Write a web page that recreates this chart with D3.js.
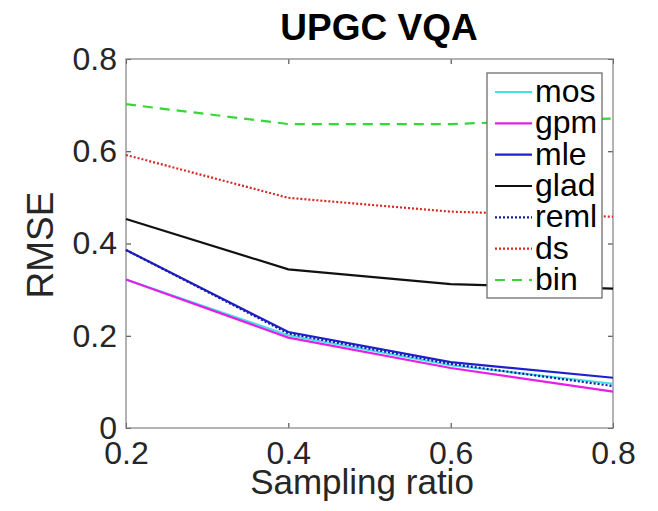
<!DOCTYPE html>
<html>
<head>
<meta charset="utf-8">
<script src="https://cdn.jsdelivr.net/npm/d3@7"></script>
<style>
  body { margin: 0; background: #fff; }
  text { font-family: "Liberation Sans", Arial, Helvetica, sans-serif; }
</style>
</head>
<body>
<div id="plot_area"></div>
<script>
// sampling ratios on the x axis
const ratios = [0.2, 0.4, 0.6, 0.8]

// RMSE per method
const mos  = [0.322, 0.201, 0.136, 0.096]
const gpm  = [0.322, 0.196, 0.130, 0.079]
const mle  = [0.386, 0.208, 0.143, 0.109]
const glad = [0.453, 0.344, 0.312, 0.302]
const reml = [0.386, 0.205, 0.139, 0.091]
const ds   = [0.592, 0.499, 0.469, 0.458]
const bin  = [0.702, 0.659, 0.659, 0.671]

const names = ['mos', 'gpm', 'mle', 'glad', 'reml', 'ds', 'bin']
const xTicks = [0.2, 0.4, 0.6, 0.8]
const yTicks = [0, 0.2, 0.4, 0.6, 0.8]

const seriesValues = { mos, gpm, mle, glad, reml, ds, bin }
const styles = {
  mos:  { color: '#3fe3e3', dash: null },
  gpm:  { color: '#e61fe6', dash: null },
  mle:  { color: '#1f1fcc', dash: null },
  glad: { color: '#111111', dash: null },
  reml: { color: '#1a1aa8', dash: '2,2' },
  ds:   { color: '#d62828', dash: '2,2' },
  bin:  { color: '#35d835', dash: '10,7' }
}

const svgWidth = 658, svgHeight = 511
const plot = { left: 126, right: 613, top: 59, bottom: 428 }

const svg = d3.select('#plot_area').append('svg')
  .attr('width', svgWidth)
  .attr('height', svgHeight)

const x = d3.scaleLinear().domain([0.2, 0.8]).range([plot.left, plot.right])
const y = d3.scaleLinear().domain([0, 0.8]).range([plot.bottom, plot.top])

// axes, ticks pointing inward like matlab
const tickFmt = d => d === 0 ? '0' : d3.format('.1f')(d)

const xAxis = svg.append('g')
  .attr('transform', `translate(0, ${plot.bottom})`)
  .call(d3.axisBottom(x).tickValues(xTicks).tickFormat(tickFmt)
    .tickSizeInner(-5).tickSizeOuter(0).tickPadding(13))
const yAxis = svg.append('g')
  .attr('transform', `translate(${plot.left}, 0)`)
  .call(d3.axisLeft(y).tickValues(yTicks).tickFormat(tickFmt)
    .tickSizeInner(-5).tickSizeOuter(0).tickPadding(9))
const topAxis = svg.append('g')
  .attr('transform', `translate(0, ${plot.top})`)
  .call(d3.axisTop(x).tickValues(xTicks).tickFormat('')
    .tickSizeInner(-5).tickSizeOuter(0))
const rightAxis = svg.append('g')
  .attr('transform', `translate(${plot.right}, 0)`)
  .call(d3.axisRight(y).tickValues(yTicks).tickFormat('')
    .tickSizeInner(-5).tickSizeOuter(0))

;[xAxis, yAxis, topAxis, rightAxis].forEach(a => {
  a.select('.domain').remove()
  a.selectAll('.tick line').attr('stroke', '#333').attr('stroke-width', 1)
  a.selectAll('.tick text')
    .attr('fill', '#262626')
    .style('font-size', '32px')
})

// frame
svg.append('rect')
  .attr('x', plot.left)
  .attr('y', plot.top)
  .attr('width', plot.right - plot.left)
  .attr('height', plot.bottom - plot.top)
  .attr('fill', 'none')
  .attr('stroke', '#8a8a8a')
  .attr('stroke-width', 1.3)

// lines
const line = d3.line()
  .x((d, i) => x(ratios[i]))
  .y(d => y(d))

const lineGroup = svg.append('g')
names.forEach(n => {
  lineGroup.append('path')
    .datum(seriesValues[n])
    .attr('d', line)
    .attr('fill', 'none')
    .attr('stroke', styles[n].color)
    .attr('stroke-width', 2.2)
    .attr('stroke-dasharray', styles[n].dash)
})

// title and axis labels
svg.append('text')
  .attr('x', 379)
  .attr('y', 40)
  .attr('text-anchor', 'middle')
  .style('font-size', '37px')
  .style('font-weight', 'bold')
  .attr('fill', '#000')
  .text('UPGC VQA')

svg.append('text')
  .attr('x', 362)
  .attr('y', 494)
  .attr('text-anchor', 'middle')
  .style('font-size', '35px')
  .attr('fill', '#262626')
  .text('Sampling ratio')

svg.append('text')
  .attr('transform', 'translate(53, 245) rotate(-90)')
  .attr('text-anchor', 'middle')
  .style('font-size', '37px')
  .attr('fill', '#262626')
  .text('RMSE')

// legend
const legend = svg.append('g')
legend.append('rect')
  .attr('x', 487)
  .attr('y', 73)
  .attr('width', 115)
  .attr('height', 225)
  .attr('fill', '#fff')
  .attr('stroke', '#6e6e6e')
  .attr('stroke-width', 1.3)

const rowY = d3.scalePoint().domain(names).range([92, 280])
names.forEach(n => {
  const ry = rowY(n)
  legend.append('line')
    .attr('x1', 495).attr('x2', 532)
    .attr('y1', ry).attr('y2', ry)
    .attr('stroke', styles[n].color)
    .attr('stroke-width', 2.2)
    .attr('stroke-dasharray', styles[n].dash)
  legend.append('text')
    .attr('x', 535)
    .attr('y', ry + 10)
    .style('font-size', '32px')
    .attr('fill', '#000')
    .text(n)
})
</script>
</body>
</html>
